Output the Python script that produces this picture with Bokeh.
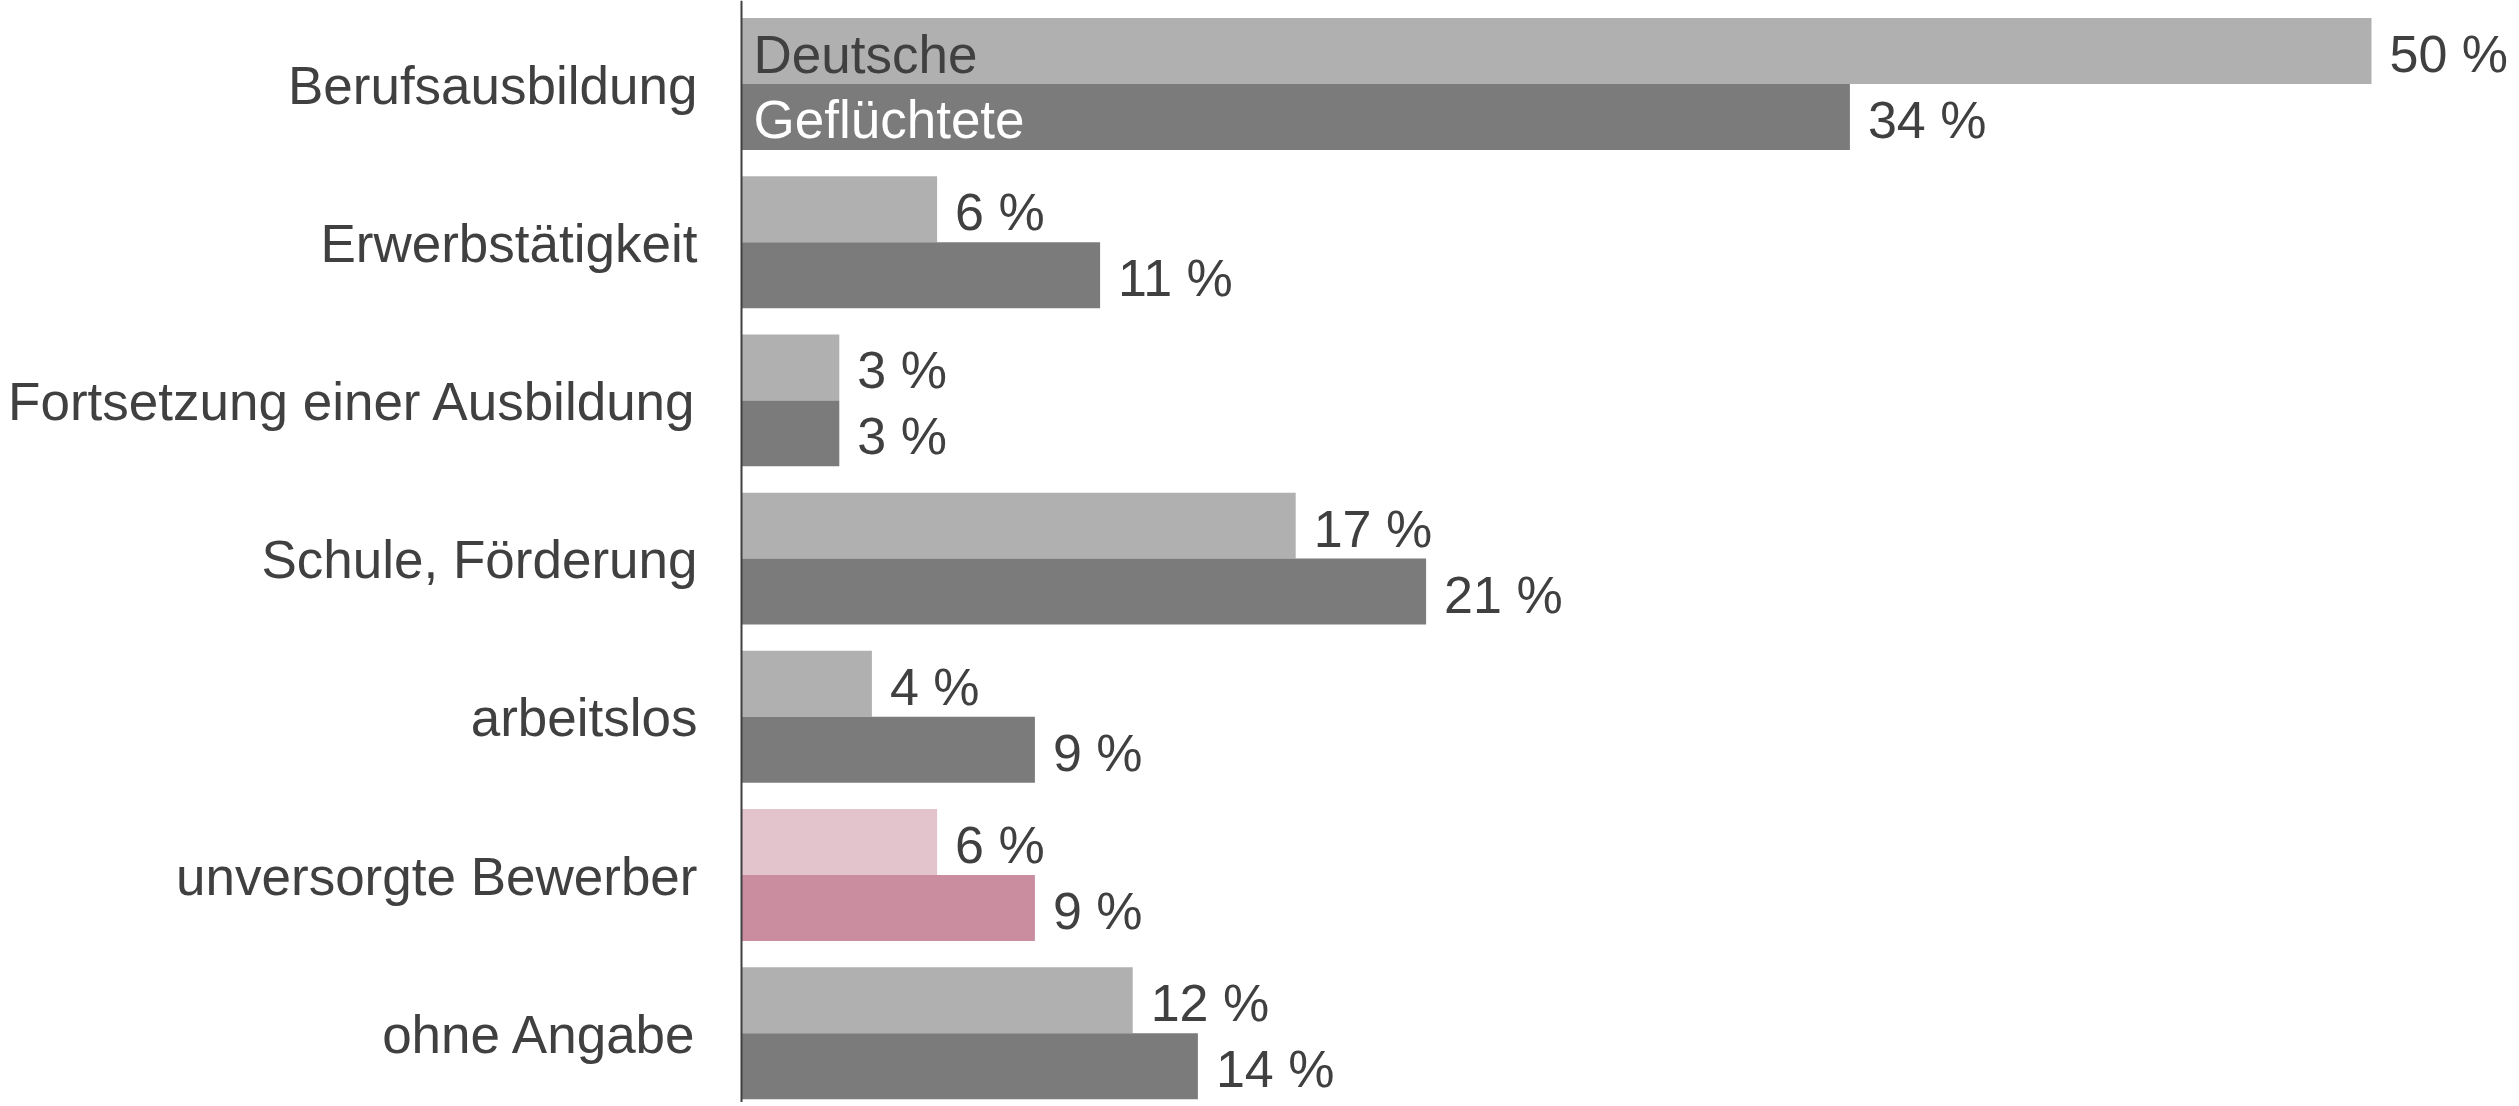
from bokeh.plotting import figure
from bokeh.models import ColumnDataSource, Range1d, Span
from bokeh.core.properties import value
from bokeh.embed import file_html
from bokeh.resources import INLINE

categories = ["Berufsausbildung", "Erwerbstätigkeit", "Fortsetzung einer Ausbildung",
              "Schule, Förderung", "arbeitslos", "unversorgte Bewerber", "ohne Angabe"]
deutsche = [50, 6, 3, 17, 4, 6, 12]
gefluechtete = [34, 11, 3, 21, 9, 9, 14]
series_names = ["Deutsche", "Geflüchtete"]
highlight = "unversorgte Bewerber"

FONT = "Liberation Sans"
TXT = "#404040"
C_LIGHT, C_DARK = "#b0b0b0", "#7b7b7b"
P_LIGHT, P_DARK = "#e3c4cd", "#c98d9f"

W, H = 2515, 1102
px_per_unit_x = 32.6
x0_px = 741
pitch = 158.2
first_center_px = 83.5
half = 0.417

x_start = -x0_px / px_per_unit_x
x_end = (W - x0_px) / px_per_unit_x
y_start = -first_center_px / pitch
y_end = y_start + H / pitch

idx = list(range(len(categories)))
is_hl = [c == highlight for c in categories]

src_d = ColumnDataSource(dict(
    y=[i - half / 2 for i in idx],
    v=deutsche,
    lab=[f"{v} %" for v in deutsche],
    col=[P_LIGHT if h else C_LIGHT for h in is_hl],
))
src_g = ColumnDataSource(dict(
    y=[i + half / 2 for i in idx],
    v=gefluechtete,
    lab=[f"{v} %" for v in gefluechtete],
    col=[P_DARK if h else C_DARK for h in is_hl],
))
src_c = ColumnDataSource(dict(y=idx, name=categories, x=[0] * len(idx)))

p = figure(width=W, height=H, output_backend="svg", toolbar_location=None,
           x_range=Range1d(x_start, x_end), y_range=Range1d(y_end, y_start),
           min_border=0, min_border_left=0, min_border_right=0,
           min_border_top=0, min_border_bottom=0)
p.axis.visible = False
p.grid.visible = False
p.outline_line_color = None
p.background_fill_color = "white"
p.border_fill_color = "white"

p.hbar(y="y", left=0, right="v", height=half, fill_color="col", line_color=None, source=src_d)
p.hbar(y="y", left=0, right="v", height=half, fill_color="col", line_color=None, source=src_g)

FS = "53px"
FS_VAL = "52px"
for src in (src_d, src_g):
    p.text(x="v", y="y", text="lab", source=src, x_offset=18, y_offset=3,
           text_align="left", text_baseline="middle",
           text_font=value(FONT), text_font_size=FS_VAL, text_color=TXT)

p.text(x="x", y="y", text="name", source=src_c, x_offset=-44, y_offset=1,
       text_align="right", text_baseline="middle",
       text_font=value(FONT), text_font_size=FS, text_color=TXT)

# series labels inside the first group's bars
p.text(x=[0, 0], y=[src_d.data["y"][0], src_g.data["y"][0]], text=series_names,
       x_offset=12, y_offset=3, text_align="left", text_baseline="middle",
       text_font=value(FONT), text_font_size=FS, text_color=[TXT, "white"])

p.add_layout(Span(location=0, dimension="height", line_color="#404040", line_width=2))

open("out.html", "w").write(file_html(p, INLINE))
